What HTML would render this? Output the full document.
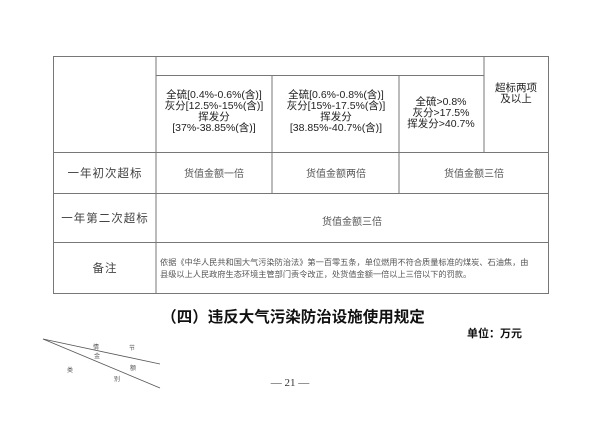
<!DOCTYPE html>
<html><head><meta charset="utf-8"><style>
html,body{margin:0;padding:0;background:#fff;}
svg{display:block;font-family:"Liberation Sans","Noto Sans CJK SC",sans-serif;}
</style></head><body>
<svg width="600" height="424" viewBox="0 0 600 424" xmlns="http://www.w3.org/2000/svg">
<g stroke="#777" stroke-width="1" fill="none">
<rect x="53.5" y="56.5" width="495" height="237"/>
<line x1="156" y1="56" x2="156" y2="294"/>
<line x1="484" y1="56" x2="484" y2="152"/>
<line x1="156" y1="75.5" x2="484" y2="75.5"/>
<line x1="272" y1="75" x2="272" y2="193"/>
<line x1="399" y1="75" x2="399" y2="193"/>
<line x1="53" y1="152.5" x2="548" y2="152.5"/>
<line x1="53" y1="193.5" x2="548" y2="193.5"/>
<line x1="53" y1="242.5" x2="548" y2="242.5"/>
</g>
<g fill="#222" font-size="10.5" text-anchor="middle">
<text x="214" y="98">全硫[0.4%-0.6%(含)]</text>
<text x="214" y="109">灰分[12.5%-15%(含)]</text>
<text x="214" y="120">挥发分</text>
<text x="214" y="131">[37%-38.85%(含)]</text>
<text x="336" y="98">全硫[0.6%-0.8%(含)]</text>
<text x="336" y="109">灰分[15%-17.5%(含)]</text>
<text x="336" y="120">挥发分</text>
<text x="336" y="131">[38.85%-40.7%(含)]</text>
<text x="441" y="105">全硫&gt;0.8%</text>
<text x="441" y="116">灰分&gt;17.5%</text>
<text x="441" y="127">挥发分&gt;40.7%</text>
<text x="516" y="91">超标两项</text>
<text x="516" y="102">及以上</text>
</g>
<g fill="#555" font-size="10" text-anchor="middle">
<text x="214" y="177">货值金额一倍</text>
<text x="336" y="177">货值金额两倍</text>
<text x="474" y="177">货值金额三倍</text>
<text x="352" y="225">货值金额三倍</text>
</g>
<g fill="#444" font-size="11.5" text-anchor="middle" letter-spacing="1">
<text x="105" y="177">一年初次超标</text>
<text x="105" y="222">一年第二次超标</text>
<text x="105" y="272">备注</text>
</g>
<g fill="#555" font-size="8.2">
<text x="160" y="265">依据《中华人民共和国大气污染防治法》第一百零五条，单位燃用不符合质量标准的煤炭、石油焦，由</text>
<text x="160" y="277">县级以上人民政府生态环境主管部门责令改正，处货值金额一倍以上三倍以下的罚款。</text>
</g>
<text x="293" y="322" font-size="15.5" font-weight="bold" fill="#111" text-anchor="middle">（四）违反大气污染防治设施使用规定</text>
<text x="522" y="337" font-size="11" font-weight="bold" fill="#111" text-anchor="end">单位：万元</text>
<g stroke="#555" stroke-width="0.8">
<line x1="43" y1="339" x2="160" y2="364"/>
<line x1="43" y1="339" x2="160" y2="388"/>
</g>
<g fill="#555" font-size="6" text-anchor="middle">
<text x="96" y="349">情</text><text x="132" y="350">节</text>
<text x="97" y="358">金</text><text x="133" y="370">额</text>
<text x="70" y="372">类</text><text x="117" y="381">别</text>
</g>
<text x="290" y="386" font-size="11" fill="#333" text-anchor="middle" font-family="Liberation Serif,serif">— 21 —</text>
</svg>
</body></html>
